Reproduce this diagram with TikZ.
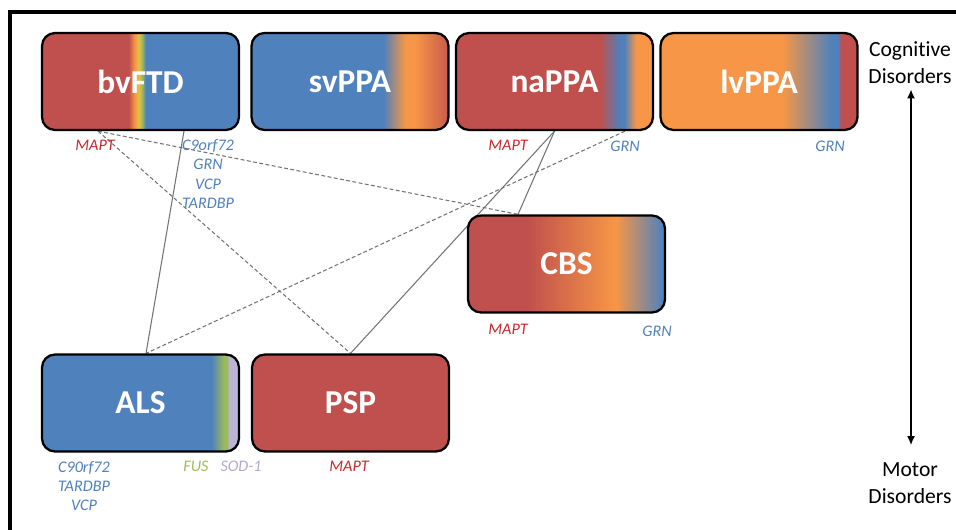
\documentclass[tikz,border=0pt]{standalone}
\usepackage{fontspec}
\setmainfont{Carlito}[Ligatures=NoCommon]
\usepackage{xcolor}
\usepackage{tikz}
\usetikzlibrary{positioning, arrows.meta, backgrounds}

\definecolor{boxred}{HTML}{C0504D}
\definecolor{boxblue}{HTML}{4F81BD}
\definecolor{boxorange}{HTML}{F79646}
\definecolor{boxgreen}{HTML}{9BBB59}
\definecolor{boxyellow}{HTML}{E3C244}
\definecolor{boxlilac}{HTML}{BDB3D6}
\definecolor{genered}{HTML}{C8282D}
\definecolor{geneblue}{HTML}{4F81BD}
\definecolor{genegreen}{HTML}{9BBB59}
\definecolor{genelilac}{HTML}{B3A8CB}

\pgfdeclarehorizontalshading{bvftdfade}{100bp}{color(0bp)=(boxred); color(25bp)=(boxred);
  color(47bp)=(boxred); color(48.5bp)=(boxorange); color(49.6bp)=(boxyellow);
  color(50.4bp)=(boxgreen); color(51.3bp)=(boxblue); color(75bp)=(boxblue); color(100bp)=(boxblue)}
\pgfdeclarehorizontalshading{svppafade}{100bp}{color(0bp)=(boxblue); color(25bp)=(boxblue);
  color(58.5bp)=(boxblue); color(64bp)=(boxorange); color(66.5bp)=(boxorange);
  color(74.5bp)=(boxred!80!boxorange); color(100bp)=(boxred!80!boxorange)}
\pgfdeclarehorizontalshading{nappafade}{100bp}{color(0bp)=(boxred); color(25bp)=(boxred);
  color(61.5bp)=(boxred); color(66.7bp)=(boxblue); color(67.7bp)=(boxblue);
  color(70.7bp)=(boxorange); color(75bp)=(boxorange); color(100bp)=(boxorange)}
\pgfdeclarehorizontalshading{lvppafade}{100bp}{color(0bp)=(boxorange); color(25bp)=(boxorange);
  color(56bp)=(boxorange); color(68.5bp)=(boxblue); color(70bp)=(boxblue);
  color(70.8bp)=(boxred); color(75bp)=(boxred); color(100bp)=(boxred)}
\pgfdeclarehorizontalshading{cbsfade}{100bp}{color(0bp)=(boxred); color(25bp)=(boxred);
  color(40bp)=(boxred); color(62.5bp)=(boxorange); color(74.5bp)=(boxblue);
  color(100bp)=(boxblue)}
\pgfdeclarehorizontalshading{alsfade}{100bp}{color(0bp)=(boxblue); color(25bp)=(boxblue);
  color(68bp)=(boxblue); color(71.2bp)=(boxgreen); color(71.9bp)=(boxgreen);
  color(72.5bp)=(boxlilac); color(75bp)=(boxlilac); color(100bp)=(boxlilac)}

\tikzset{
    diagbox/.style   = {draw=black, line width=1.3pt, rounded corners=0.26cm,
                        minimum width=3.94cm, minimum height=1.94cm, inner sep=0pt,
                        text=white, font=\fontsize{19}{21}\selectfont\bfseries},
    fadebox/.style   = {diagbox, shade, shading=#1},
    gene/.style      = {font=\fontsize{9.2}{11}\selectfont\itshape, align=center, inner sep=1pt},
    axislabel/.style = {font=\fontsize{12.3}{15.3}\selectfont, align=center, inner sep=0pt},
    link/.style      = {draw=black!55, line width=0.6pt},
    loose/.style     = {link, dash pattern=on 2.2pt off 1.4pt},
    axisarrow/.style = {{Latex[length=1.8mm, width=1.6mm]}-{Latex[length=1.8mm, width=1.6mm]},
                        line width=1.1pt}
}

\begin{document}
\begin{tikzpicture}[x=0.02cm, y=-0.02cm]
        \useasboundingbox (0,0) rectangle (956,530);
        \draw[line width=2.3pt] (10,530) -- (10,12) -- (956,12);

        % --- cognitive row ---
        \node[fadebox=bvftdfade] (bvftd) at (140.5,81.5) {bvFTD};
        \node[fadebox=svppafade] (svppa) at (350,81.5)   {svPPA};
        \node[fadebox=nappafade] (nappa) at (554.5,81.5) {naPPA};
        \node[fadebox=lvppafade] (lvppa) at (759,81.5)   {lvPPA};

        \node[gene, text=genered]  (bvmapt)  at (95,145)  {MAPT};
        \node[gene, text=geneblue] (bvgenes) at (208,174) {C9orf72\\GRN\\VCP\\TARDBP};
        \node[gene, text=genered]  (namapt)  at (508,145) {MAPT};
        \node[gene, text=geneblue] (nagrn)   at (625,146) {GRN};
        \node[gene, text=geneblue] (lvgrn)   at (830,146) {GRN};

        % --- CBS ---
        \node[fadebox=cbsfade] (cbs) at (566.5,264) {CBS};
        \node[gene, text=genered]  (cbsmapt) at (508,329) {MAPT};
        \node[gene, text=geneblue] (cbsgrn)  at (657,331) {GRN};

        % --- motor row ---
        \node[fadebox=alsfade]      (als) at (140.5,403) {ALS};
        \node[diagbox, fill=boxred] (psp) at (350.5,403) {PSP};

        \node[gene, text=geneblue]  (alsgenes) at (84,486)  {C90rf72\\TARDBP\\VCP};
        \node[gene, text=genegreen] (alsfus)   at (196,466) {FUS};
        \node[gene, text=genelilac] (alssod)   at (241,466) {SOD-1};
        \node[gene, text=genered]   (pspmapt)  at (349,466) {MAPT};

        % --- axis ---
        \node[axislabel] (cog) at (910,63)  {Cognitive\\Disorders};
        \node[axislabel] (mot) at (910,483) {Motor\\Disorders};
        \draw[axisarrow, shorten <=0.1cm, shorten >=0.34cm]
            ([xshift=0.02cm]cog.south) -- ([xshift=0.02cm]mot.north);

        % --- overlaps ---
        \begin{scope}[on background layer]
            \draw[link]  ([xshift=0.87cm]bvftd.south) -- ([xshift=0.11cm]als.north);
            \draw[link]  (nappa.south) -- ([xshift=-0.97cm]cbs.north);
            \draw[link]  (nappa.south) -- (psp.north);
            \draw[loose] ([xshift=-0.85cm]bvftd.south) -- ([xshift=-0.97cm]cbs.north);
            \draw[loose] ([xshift=-0.85cm]bvftd.south) -- (psp.north);
            \draw[loose] ([xshift=1.41cm]nappa.south) -- ([xshift=0.11cm]als.north);
        \end{scope}
    \end{tikzpicture}
\end{document}
